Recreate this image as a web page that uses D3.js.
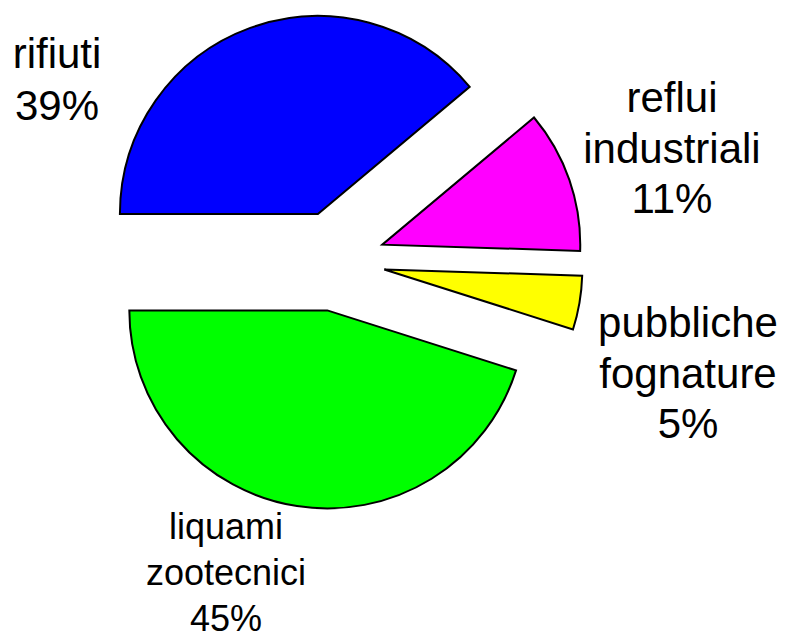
<!DOCTYPE html>
<html>
<head>
<meta charset="utf-8">
<script src="https://cdn.jsdelivr.net/npm/d3@7"></script>
<style>
  html, body { margin: 0; padding: 0; background: #fff; }
  svg { display: block; }
</style>
</head>
<body>
<svg id="chart" width="785" height="639"></svg>
<script>
// ---- data ----
const categories = ["rifiuti", "reflui industriali", "pubbliche fognature", "liquami zootecnici"];
const values = [38.9, 11.6, 4.4, 45.1];
const percentLabels = ["39%", "11%", "5%", "45%"];
const labelLines = [["rifiuti"], ["reflui", "industriali"], ["pubbliche", "fognature"], ["liquami", "zootecnici"]];
const colors = ["#0000FF", "#FF00FF", "#FFFF00", "#00FF00"];

// ---- layout ----
const cx = 335, cy = 261, radius = 198, explode = 50;
// label layout per slice: center x, first baseline y, font size, line gap
const labelLayout = [
  { x: 57,  y: 67.5, size: 42, gap: 52 },
  { x: 672, y: 112,  size: 42, gap: 50.5 },
  { x: 688, y: 337,  size: 42, gap: 50.5 },
  { x: 226, y: 539,  size: 36, gap: 46 }
];

const svg = d3.select("#chart");

const pie = d3.pie()
  .sort(null)
  .value(d => d.value)
  .startAngle(-Math.PI / 2)
  .endAngle(3 * Math.PI / 2);

const data = categories.map((c, i) => ({ name: c, value: values[i], color: colors[i], i }));
const arcs = pie(data);
const arc = d3.arc().innerRadius(0).outerRadius(radius);

const g = svg.append("g").attr("transform", `translate(${cx},${cy})`);

g.selectAll("path.slice")
  .data(arcs)
  .join("path")
  .attr("class", "slice")
  .attr("d", arc)
  .attr("fill", d => d.data.color)
  .attr("stroke", "#000")
  .attr("stroke-width", 2)
  .attr("stroke-linejoin", "miter")
  .attr("transform", d => {
    const mid = (d.startAngle + d.endAngle) / 2;
    const dx = Math.sin(mid) * explode;
    const dy = -Math.cos(mid) * explode;
    return `translate(${dx},${dy})`;
  });

// labels
arcs.forEach((d, i) => {
  const lines = labelLines[i].concat([percentLabels[i]]);
  const L = labelLayout[i];
  const t = svg.append("text")
    .attr("x", L.x)
    .attr("y", L.y)
    .attr("text-anchor", "middle")
    .attr("font-family", "'Liberation Sans', Arial, sans-serif")
    .attr("font-size", L.size)
    .attr("fill", "#000");
  lines.forEach((ln, k) => {
    t.append("tspan")
      .attr("x", L.x)
      .attr("y", L.y + k * L.gap)
      .text(ln);
  });
});
</script>
</body>
</html>
